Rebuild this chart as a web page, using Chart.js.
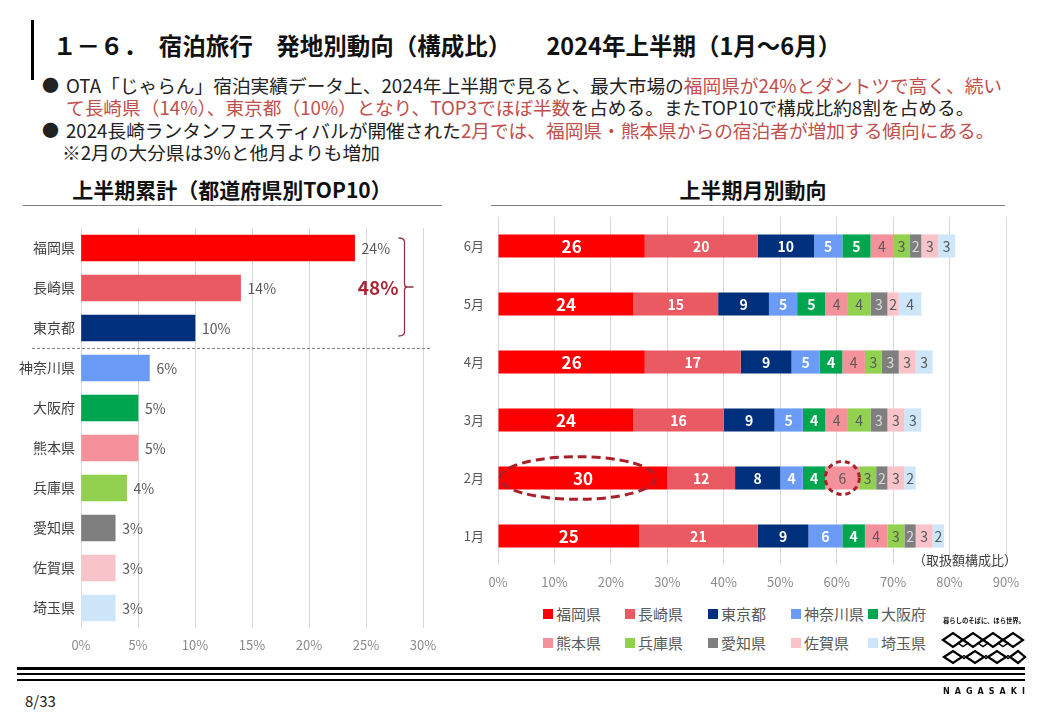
<!DOCTYPE html>
<html lang="ja"><head><meta charset="utf-8">
<script src="https://cdn.jsdelivr.net/npm/chart.js@4.4.1/dist/chart.umd.min.js"></script>
<style>
html,body{margin:0;padding:0;}
body{width:1040px;height:720px;background:#fff;position:relative;overflow:hidden;font-family:"Noto Sans CJK JP","Noto Sans",sans-serif;color:#1a1a1a;}
.abs{position:absolute;white-space:nowrap;line-height:1;}
.r{color:#C0504D;}
.title{left:53px;top:34px;font-size:23.5px;font-weight:bold;color:#111;}
.bl{font-size:18.7px;color:#222;}
.sec{font-size:21px;font-weight:bold;color:#111;transform:translateX(-50%);}
.rule{position:absolute;height:1px;background:#7f7f7f;}
.leg{position:absolute;font-size:15px;color:#595959;line-height:1;white-space:nowrap;}
.leg i{display:inline-block;width:10px;height:10px;margin-right:3px;vertical-align:1px;}
</style>
</head><body>
<div class="abs" style="left:31px;top:20px;width:3px;height:60px;background:#000;"></div>
<div class="abs title">１－６．　宿泊旅行　発地別動向（構成比）　　2024年上半期（1月～6月）</div>

<div class="abs bl" style="left:42px;top:76px;font-size:17px;">●</div>
<div class="abs bl" style="left:66px;top:76px;">OTA「じゃらん」宿泊実績データ上、2024年上半期で見ると、最大市場の<span class="r">福岡県が24%とダントツで高く、続い</span></div>
<div class="abs bl" style="left:66px;top:98px;"><span class="r">て長崎県（14%）、東京都（10%）となり、TOP3でほぼ半数</span>を占める。またTOP10で構成比約8割を占める。</div>
<div class="abs bl" style="left:42px;top:121px;font-size:17px;">●</div>
<div class="abs bl" style="left:66px;top:121px;">2024長崎ランタンフェスティバルが開催された<span class="r">2月では、福岡県・熊本県からの宿泊者が増加する傾向にある。</span></div>
<div class="abs bl" style="left:62px;top:143px;">※2月の大分県は3%と他月よりも増加</div>

<div class="abs sec" style="left:232px;top:179px;">上半期累計（都道府県別TOP10）</div>
<div class="rule" style="left:23px;top:205px;width:419px;"></div>
<div class="abs sec" style="left:753px;top:179px;">上半期月別動向</div>
<div class="rule" style="left:491px;top:205px;width:514px;"></div>

<canvas id="left" width="450" height="455" style="position:absolute;left:0;top:213px;"></canvas>
<canvas id="right" width="590" height="405" style="position:absolute;left:450px;top:195px;"></canvas>
<div class="abs" id="note" style="left:913px;top:553px;font-size:13px;color:#404040;"></div>
<div id="legend"></div>

<div class="abs" style="left:17px;top:667px;width:1008px;height:3px;background:#000;"></div>
<div class="abs" style="left:17px;top:673px;width:1008px;height:2px;background:#000;"></div>
<div class="abs" style="left:17px;top:679px;width:1008px;height:2px;background:#000;"></div>
<div class="abs" style="left:25px;top:693px;font-size:15px;color:#222;">8/33</div>

<svg style="position:absolute;left:938px;top:612px;" width="95" height="90" viewBox="0 0 95 90">
  <text x="5" y="11" font-size="6.4" font-weight="bold" fill="#111" textLength="82" font-family="Noto Sans CJK JP">暮らしのそばに、ほら世界。</text>
  <g fill="none" stroke="#000" stroke-width="2.2">
    <path d="M5 28 L15 21 L25 28 L15 35 Z"/>
    <path d="M25 28 L35 21 L45 28 L35 35 Z"/>
    <path d="M45 28 L55 21 L65 28 L55 35 Z"/>
    <path d="M65 28 L75 21 L85 28 L75 35 Z"/>
    <path d="M20 31 L25 27.5 L30 31 L25 34.5 Z" stroke-width="1.5"/>
    <path d="M40 31 L45 27.5 L50 31 L45 34.5 Z" stroke-width="1.5"/>
    <path d="M60 31 L65 27.5 L70 31 L65 34.5 Z" stroke-width="1.5"/>
    <path d="M6 45 L15 39 L24 45 L15 51 Z"/>
    <path d="M28 45 L37 39 L46 45 L37 51 Z"/>
    <path d="M50 45 L59 39 L68 45 L59 51 Z"/>
    <path d="M72 45 L80 39 L87 45 L80 51 Z"/>
    <path d="M24 45 L26 43.5 L28 45 L26 46.5 Z" stroke-width="1.4"/>
    <path d="M46 45 L48 43.5 L50 45 L48 46.5 Z" stroke-width="1.4"/>
    <path d="M68 45 L70 43.5 L72 45 L70 46.5 Z" stroke-width="1.4"/>
  </g>
  <text x="5" y="82" font-size="8" font-weight="bold" fill="#111" textLength="82" font-family="DejaVu Sans">NAGASAKI</text>
</svg>

<script>
// ---- data ----
const prefectures = ['福岡県','長崎県','東京都','神奈川県','大阪府','熊本県','兵庫県','愛知県','佐賀県','埼玉県'];
const totalShare = [24,14,10,6,5,5,4,3,3,3];
const top3Label = '48%';
const months = ['1月','2月','3月','4月','5月','6月'];
const sFukuoka  = [25,30,24,26,24,26];
const sNagasaki = [21,12,16,17,15,20];
const sTokyo    = [9,8,9,9,9,10];
const sKanagawa = [6,4,5,5,5,5];
const sOsaka    = [4,4,4,4,5,5];
const sKumamoto = [4,6,4,4,4,4];
const sHyogo    = [3,3,4,3,4,3];
const sAichi    = [2,2,3,3,3,2];
const sSaga     = [3,3,3,3,2,3];
const sSaitama  = [2,2,3,3,4,3];
const monthlySeries = [sFukuoka,sNagasaki,sTokyo,sKanagawa,sOsaka,sKumamoto,sHyogo,sAichi,sSaga,sSaitama];
const unitNote = '（取扱額構成比）';
const highlightMonth = '2月';

// ---- styles ----
const colors = ['#FF0000','#EA5A63','#002F7C','#6A9CF7','#00A550','#F4919A','#92D050','#7F7F7F','#F8C4CA','#CDE6FA'];
const FONT = '"Noto Sans CJK JP", "Noto Sans", sans-serif';
Chart.defaults.font.family = FONT;
Chart.defaults.animation = false;

document.getElementById('note').textContent = unitNote;

// legend (HTML, built from data)
const legCols = [543, 625, 708, 791, 868];
const legRows = [606, 635];
const legEl = document.getElementById('legend');
prefectures.forEach((p,i)=>{
  const d = document.createElement('div');
  d.className='leg';
  d.style.left = legCols[i%5]+'px';
  d.style.top = legRows[Math.floor(i/5)]+'px';
  d.innerHTML = '<i style="background:'+colors[i]+'"></i>'+p;
  legEl.appendChild(d);
});

// ---- left chart ----
const leftExtras = {
  id:'leftExtras',
  afterDatasetsDraw(chart){
    const ctx = chart.ctx, meta = chart.getDatasetMeta(0), area = chart.chartArea, xs = chart.scales.x;
    ctx.save();
    ctx.font = '14px '+FONT; ctx.fillStyle = '#595959'; ctx.textBaseline = 'middle'; ctx.textAlign = 'left';
    meta.data.forEach((el,i)=>{ ctx.fillText(totalShare[i]+'%', el.x+7, el.y+1); });
    // separator between top3 and the rest
    const sy = Math.round((meta.data[2].y + meta.data[3].y)/2) + 0.5;
    ctx.strokeStyle = '#808080'; ctx.lineWidth = 1; ctx.setLineDash([3,2]);
    ctx.beginPath(); ctx.moveTo(32, sy); ctx.lineTo(area.right+7, sy); ctx.stroke();
    ctx.setLineDash([]);
    // bracket
    const top = meta.data[0].y - meta.data[0].height/2 + 3;
    const bot = meta.data[2].y + meta.data[2].height/2 - 5;
    const mid = (top+bot)/2;
    const bx = Math.round(xs.getPixelForValue(28.3)) + 0.5;
    ctx.strokeStyle = '#8E3444'; ctx.lineWidth = 1.3;
    ctx.beginPath();
    ctx.moveTo(bx-6, top); ctx.quadraticCurveTo(bx, top, bx, top+4);
    ctx.lineTo(bx, mid-3); ctx.quadraticCurveTo(bx, mid, bx+3, mid);
    ctx.lineTo(bx+9, mid);
    ctx.moveTo(bx+3, mid); ctx.quadraticCurveTo(bx, mid, bx, mid+3);
    ctx.lineTo(bx, bot-4); ctx.quadraticCurveTo(bx, bot, bx-6, bot);
    ctx.stroke();
    ctx.font = 'bold 19px '+FONT; ctx.fillStyle = '#A82838'; ctx.textAlign = 'right';
    ctx.fillText(top3Label, bx-6, mid+1);
    ctx.restore();
  }
};
new Chart(document.getElementById('left'), {
  type:'bar',
  data:{labels:prefectures, datasets:[{data:totalShare, backgroundColor:colors, barThickness:26}]},
  options:{
    indexAxis:'y', responsive:false,
    layout:{padding:{top:15,right:27,left:0,bottom:0}},
    plugins:{legend:{display:false}, tooltip:{enabled:false}},
    scales:{
      x:{min:0,max:30,ticks:{stepSize:5,callback:v=>v+'%',color:'#8C8C8C',font:{size:13},padding:9},
         grid:{color:'#D9D9D9',drawTicks:false}, border:{display:false},
         afterFit(s){s.height=40;}},
      y:{ticks:{color:'#404040',font:{size:14},padding:6}, grid:{display:false,drawTicks:false}, border:{display:false},
         afterFit(s){s.width=81;}}
    }
  },
  plugins:[leftExtras]
});

// ---- right chart ----
const labelStyle = (di)=>{
  if(di===0) return {font:'bold 17px '+FONT, color:'#FFFFFF'};
  if(di<=4) return {font:'bold 14px '+FONT, color:'#FFFFFF'};
  if(di===7) return {font:'14px '+FONT, color:'#DADADA'};
  return {font:'14px '+FONT, color:'#595959'};
};
const rightExtras = {
  id:'rightExtras',
  afterDatasetsDraw(chart){
    const ctx = chart.ctx;
    ctx.save();
    ctx.textAlign='center'; ctx.textBaseline='middle';
    chart.data.datasets.forEach((ds,di)=>{
      const st = labelStyle(di);
      ctx.font = st.font; ctx.fillStyle = st.color;
      chart.getDatasetMeta(di).data.forEach((el,i)=>{
        ctx.fillText(String(ds.data[i]), (el.x+el.base)/2, el.y+1);
      });
    });
    // highlight ellipses for February
    const mi = months.indexOf(highlightMonth);
    const f = chart.getDatasetMeta(0).data[mi];
    const w = f.x - f.base;
    ctx.strokeStyle = '#A8202A'; ctx.lineWidth = 3; ctx.setLineDash([9,5]);
    ctx.beginPath();
    ctx.ellipse(f.base + w*0.47, f.y, w*0.46, f.height*0.92, 0, 0, Math.PI*2);
    ctx.stroke();
    const k = chart.getDatasetMeta(5).data[mi];
    ctx.setLineDash([5,4]);
    ctx.beginPath();
    ctx.ellipse((k.x+k.base)/2, k.y, 17, 16.5, 0, 0, Math.PI*2);
    ctx.stroke();
    ctx.restore();
  }
};
new Chart(document.getElementById('right'), {
  type:'bar',
  data:{labels:months, datasets:monthlySeries.map((s,i)=>({label:prefectures[i], data:s, backgroundColor:colors[i], barPercentage:0.4, categoryPercentage:1}))},
  options:{
    indexAxis:'y', responsive:false,
    layout:{padding:{top:22,right:34,left:0,bottom:0}},
    plugins:{legend:{display:false}, tooltip:{enabled:false}},
    scales:{
      x:{stacked:true,min:0,max:90,ticks:{stepSize:10,callback:v=>v+'%',color:'#8C8C8C',font:{size:13},padding:9},
         grid:{color:'#D9D9D9',drawTicks:false}, border:{display:false},
         afterFit(s){s.height=35;}},
      y:{stacked:true, reverse:true, ticks:{color:'#595959',font:{size:13},padding:14}, grid:{display:false,drawTicks:false}, border:{display:false},
         afterFit(s){s.width=48;}}
    }
  },
  plugins:[rightExtras]
});
</script>
</body></html>
